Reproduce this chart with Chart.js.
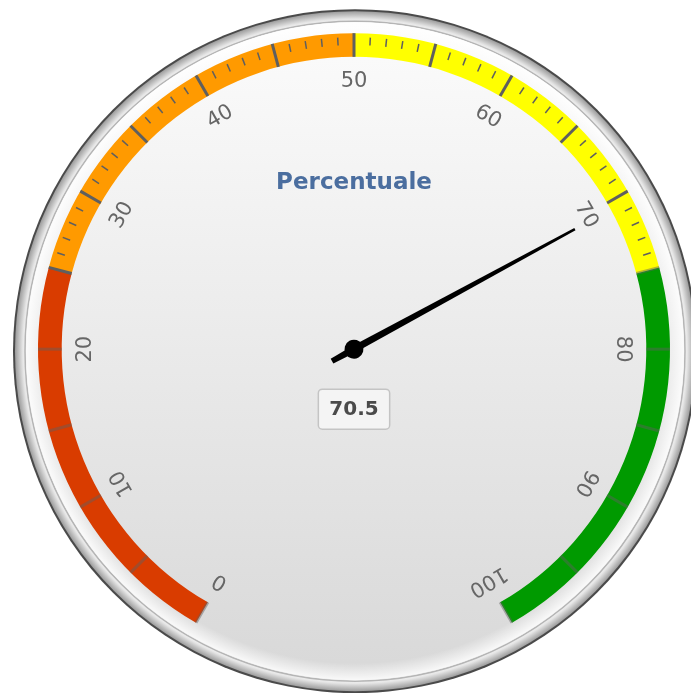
<!DOCTYPE html>
<html>
<head>
<meta charset="utf-8">
<style>
  html, body { margin: 0; padding: 0; background: #fff; }
  #gauge { display: block; }
</style>
</head>
<body>
<canvas id="gauge" width="691" height="693"></canvas>
<script src="https://cdn.jsdelivr.net/npm/chart.js@4/dist/chart.umd.min.js"></script>
<script>
// gauge data
const gaugeTitle = 'Percentuale';
const minValue = 0;
const maxValue = 100;
const gaugeValue = 70.5;
const bandLimits = [0, 25, 50, 75, 100];
const bandColors = ['#d93c00', '#ff9a00', '#ffff00', '#009a00'];
const tickLabels = [0, 10, 20, 30, 40, 50, 60, 70, 80, 90, 100];
const majorStep = 5;
const minorStep = 1;

const bandSizes = bandLimits.slice(1).map((v, i) => v - bandLimits[i]);

function geometry(chart) {
  const arcs = chart.getDatasetMeta(0).data;
  const first = arcs[0];
  const last = arcs[arcs.length - 1];
  return {
    cx: first.x, cy: first.y,
    outer: first.outerRadius, inner: first.innerRadius,
    start: first.startAngle, end: last.endAngle
  };
}

function angleOf(g, v) {
  return g.start + (v - minValue) / (maxValue - minValue) * (g.end - g.start);
}

function roundRect(ctx, x, y, w, h, r) {
  ctx.beginPath();
  ctx.moveTo(x + r, y);
  ctx.arcTo(x + w, y, x + w, y + h, r);
  ctx.arcTo(x + w, y + h, x, y + h, r);
  ctx.arcTo(x, y + h, x, y, r);
  ctx.arcTo(x, y, x + w, y, r);
  ctx.closePath();
}

const gaugePlugin = {
  id: 'gauge',
  beforeDatasetsDraw(chart) {
    const ctx = chart.ctx;
    const g = geometry(chart);
    const fx = g.cx + 1, fy = g.cy + 2;
    ctx.save();

    // outer dark rim
    ctx.beginPath();
    ctx.arc(fx, fy, 342, 0, Math.PI * 2);
    ctx.fillStyle = '#4a4a4a';
    ctx.fill();

    // silver ring
    const ring = ctx.createRadialGradient(fx, fy, 326, fx, fy, 340);
    ring.addColorStop(0, '#ffffff');
    ring.addColorStop(0.45, '#e6e6e6');
    ring.addColorStop(1, '#9c9c9c');
    ctx.beginPath();
    ctx.arc(fx, fy, 340, 0, Math.PI * 2);
    ctx.fillStyle = ring;
    ctx.fill();

    // thin line at face edge
    ctx.beginPath();
    ctx.arc(fx, fy, 330, 0, Math.PI * 2);
    ctx.strokeStyle = '#b5b5b5';
    ctx.lineWidth = 1.5;
    ctx.stroke();

    // face
    const face = ctx.createLinearGradient(0, fy - 330, 0, fy + 330);
    face.addColorStop(0, '#fcfcfc');
    face.addColorStop(1, '#d8d8d8');
    ctx.beginPath();
    ctx.arc(fx, fy, 329, 0, Math.PI * 2);
    ctx.fillStyle = face;
    ctx.fill();

    // soft white inner edge
    const glow = ctx.createRadialGradient(fx, fy, 312, fx, fy, 329);
    glow.addColorStop(0, 'rgba(255,255,255,0)');
    glow.addColorStop(1, 'rgba(255,255,255,0.85)');
    ctx.beginPath();
    ctx.arc(fx, fy, 329, 0, Math.PI * 2);
    ctx.fillStyle = glow;
    ctx.fill();

    ctx.restore();
  },
  afterDatasetsDraw(chart) {
    const ctx = chart.ctx;
    const g = geometry(chart);
    ctx.save();

    // ticks
    for (let v = minValue; v <= maxValue; v += minorStep) {
      const a = angleOf(g, v);
      const major = v % majorStep === 0;
      const strong = v >= bandLimits[1] && v < bandLimits[3];
      if (!major && !strong) continue;
      const r1 = major ? g.outer : g.outer - 4;
      const r2 = major ? g.inner : g.outer - 12;
      ctx.beginPath();
      ctx.moveTo(g.cx + Math.cos(a) * r1, g.cy + Math.sin(a) * r1);
      ctx.lineTo(g.cx + Math.cos(a) * r2, g.cy + Math.sin(a) * r2);
      ctx.strokeStyle = strong ? '#5f5f5f' : 'rgba(95,95,95,0.45)';
      ctx.lineWidth = major ? 3 : 1.5;
      ctx.stroke();
    }

    // tick labels
    ctx.font = '21px "DejaVu Sans"';
    ctx.fillStyle = '#666666';
    ctx.textAlign = 'center';
    ctx.textBaseline = 'middle';
    const labelR = g.outer - 48;
    tickLabels.forEach(v => {
      const a = angleOf(g, v);
      ctx.save();
      ctx.translate(g.cx + Math.cos(a) * labelR, g.cy + Math.sin(a) * labelR);
      ctx.rotate(a + Math.PI / 2);
      ctx.fillText(String(v), 0, 0);
      ctx.restore();
    });

    // title
    ctx.font = 'bold 23px "DejaVu Sans"';
    ctx.fillStyle = '#4b6e9f';
    ctx.fillText(gaugeTitle, g.cx, g.cy - 166);

    // needle
    const a = angleOf(g, gaugeValue);
    const len = g.inner * 0.86;
    ctx.save();
    ctx.translate(g.cx, g.cy);
    ctx.rotate(a);
    ctx.beginPath();
    ctx.moveTo(-25, -2.8);
    ctx.lineTo(0, -3.6);
    ctx.lineTo(len, -1.3);
    ctx.lineTo(len, 1.3);
    ctx.lineTo(0, 3.6);
    ctx.lineTo(-25, 2.8);
    ctx.closePath();
    ctx.fillStyle = '#000';
    ctx.fill();
    ctx.beginPath();
    ctx.arc(0, 0, 9.5, 0, Math.PI * 2);
    ctx.fill();
    ctx.restore();

    // value label
    const text = String(gaugeValue);
    ctx.font = 'bold 20px "DejaVu Sans"';
    const w = ctx.measureText(text).width + 22;
    const h = 40;
    const bx = g.cx - w / 2, by = g.cy + 60 - h / 2;
    roundRect(ctx, bx, by, w, h, 4);
    ctx.fillStyle = 'rgba(245,245,245,0.9)';
    ctx.fill();
    ctx.strokeStyle = '#c4c4c4';
    ctx.lineWidth = 1.5;
    ctx.stroke();
    ctx.fillStyle = '#4a4a4a';
    ctx.fillText(text, g.cx, g.cy + 61);

    ctx.restore();
  }
};

const chart = new Chart(document.getElementById('gauge'), {
  type: 'doughnut',
  data: {
    labels: bandLimits.slice(1).map((v, i) => bandLimits[i] + '-' + v),
    datasets: [{
      data: bandSizes,
      backgroundColor: bandColors,
      borderWidth: 0,
      hoverOffset: 0
    }]
  },
  options: {
    responsive: false,
    animation: false,
    events: [],
    rotation: -150,
    circumference: 300,
    radius: 316,
    cutout: '92.5%',
    layout: { padding: { left: 17, bottom: 37 } },
    plugins: {
      legend: { display: false },
      tooltip: { enabled: false }
    }
  },
  plugins: [gaugePlugin]
});
</script>
</body>
</html>
